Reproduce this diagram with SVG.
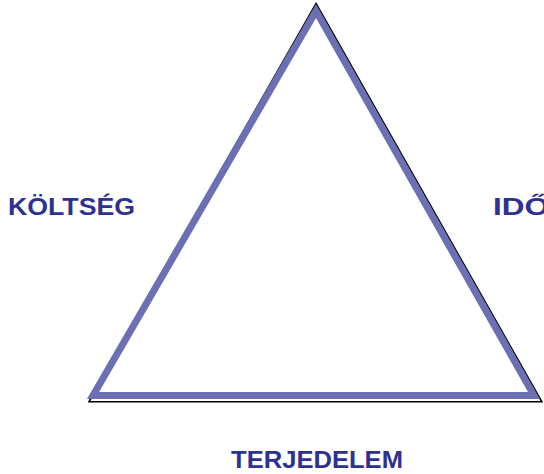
<svg xmlns="http://www.w3.org/2000/svg" width="544" height="474" viewBox="0 0 544 474">
<style>
.lbl{font-family:"Liberation Sans",Arial,sans-serif;font-weight:bold;font-size:23px;fill:#2e3192}
</style>
<rect width="544" height="474" fill="#ffffff"/>
<g id="triangle">
<polygon points="316,3.5 541.8,401.75 89,401.75" fill="none" stroke="#000000" stroke-width="1.6" stroke-linejoin="miter"/>
<polygon points="316,11 534,395.5 93,395.5" fill="#ffffff" stroke="#6b6fb3" stroke-width="7" stroke-linejoin="miter"/>
</g>
<g id="koltseg"><text class="lbl" x="8" y="215" textLength="127" lengthAdjust="spacingAndGlyphs">KÖLTSÉG</text></g>
<g id="ido"><text class="lbl" x="493" y="215" textLength="56" lengthAdjust="spacingAndGlyphs">IDŐ</text></g>
<g id="terjedelem"><text class="lbl" x="231" y="468" textLength="172" lengthAdjust="spacingAndGlyphs">TERJEDELEM</text></g>
</svg>
